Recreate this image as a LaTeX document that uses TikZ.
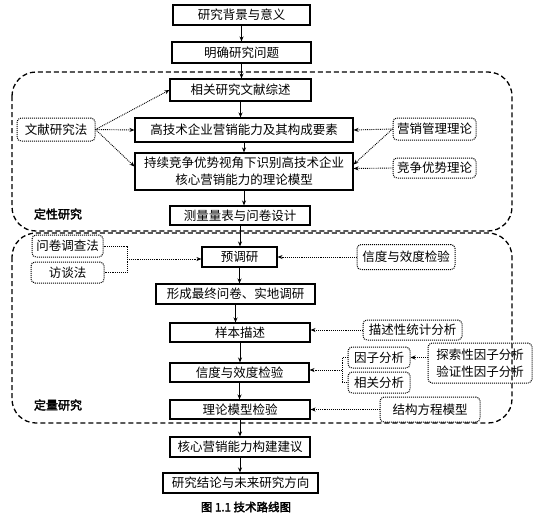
\documentclass[tikz,border=0pt]{standalone}
\usepackage{fontspec}
\setmainfont{Noto Sans CJK SC}[AutoFakeBold=2.5]
\usetikzlibrary{arrows.meta}
\pgfdeclarelayer{bg}
\pgfsetlayers{bg,main}

\begin{document}
\begin{tikzpicture}[x=1pt,y=-1pt,
        font=\fontsize{12.5}{17}\selectfont,
        stepbox/.style={draw, line width=1.1pt, inner sep=0pt, minimum height=20pt, align=center},
        toolbox/.style={draw, densely dotted, line width=1pt, rounded corners=4pt, inner sep=0pt, minimum height=21pt, align=center},
        flow/.style={-{Stealth[length=5pt,width=4pt]}, line width=0.9pt},
        hint/.style={-{Stealth[length=5pt,width=4pt]}, densely dotted, line width=0.9pt},
        brace/.style={densely dotted, line width=0.9pt},
        zone/.style={dash pattern=on 5pt off 3pt, line width=1.3pt, rounded corners=24pt},
        zonelabel/.style={font=\bfseries\fontsize{12}{14}\selectfont}]
        \useasboundingbox (0,0) rectangle (545,531);
        % main steps
        \node (s1) [stepbox, minimum width=137pt] at (241.5, 15) {研究背景与意义};
        \node (s2) [stepbox, minimum width=139pt, minimum height=21pt] at (241.5, 52.5) {明确研究问题};
        \node (s3) [stepbox, minimum width=141pt, minimum height=22pt] at (240.5, 90) {相关研究文献综述};
        \node (s4) [stepbox, minimum width=218pt, minimum height=24pt] at (244, 130) {高技术企业营销能力及其构成要素};
        \node (s5) [stepbox, minimum width=218pt, minimum height=37pt] at (244, 171.5) {持续竞争优势视角下识别高技术企业\\核心营销能力的理论模型};
        \node (s6) [stepbox, minimum width=140pt, minimum height=19pt] at (240, 215.5) {测量量表与问卷设计};
        \node (s7) [stepbox, minimum width=75pt] at (239.5, 257) {预调研};
        \node (s8) [stepbox, minimum width=159pt] at (235.5, 294) {形成最终问卷、实地调研};
        \node (s9) [stepbox, minimum width=140pt, minimum height=19pt] at (240, 332.5) {样本描述};
        \node (s10) [stepbox, minimum width=139pt, minimum height=19pt] at (239.5, 372.5) {信度与效度检验};
        \node (s11) [stepbox, minimum width=140pt, minimum height=19pt] at (240, 409.5) {理论模型检验};
        \node (s12) [stepbox, minimum width=140pt] at (240, 447) {核心营销能力构建建议};
        \node (s13) [stepbox, minimum width=155pt] at (240.5, 483) {研究结论与未来研究方向};
        % methods and theories
        \node (lit) [toolbox, minimum width=78pt, minimum height=23pt] at (56, 129.5) {文献研究法};
        \node (mkt) [toolbox, minimum width=83pt, minimum height=22pt] at (434.5, 129) {营销管理理论};
        \node (adv) [toolbox, minimum width=83pt, minimum height=20pt] at (434.5, 168) {竞争优势理论};
        \node (svy) [toolbox, minimum width=71pt, minimum height=22pt] at (67.5, 246) {问卷调查法};
        \node (itv) [toolbox, minimum width=73pt] at (67.5, 272.5) {访谈法};
        \node (rel) [toolbox, minimum width=98pt, minimum height=25pt] at (406, 257) {信度与效度检验};
        \node (desc) [toolbox, minimum width=99pt, minimum height=20pt] at (412.5, 330) {描述性统计分析};
        \node (fac) [toolbox, minimum width=62pt] at (379, 357.5) {因子分析};
        \node (cor) [toolbox, minimum width=62pt] at (379, 382.5) {相关分析};
        \node (efa) [toolbox, minimum width=104pt, minimum height=40pt] at (480, 363) {探索性因子分析\\验证性因子分析};
        \node (sem) [toolbox, minimum width=100pt, minimum height=25pt] at (430, 409.5) {结构方程模型};
        \coordinate (lbrk) at (127, 259);
        \coordinate (rbrk) at (342, 370);
        % zones
        \node (qual) [zonelabel] at (58, 214) {定性研究};
        \node (quant) [zonelabel] at (58, 405) {定量研究};
        \node (cap) [font=\bfseries\fontsize{11.5}{14}\selectfont] at (246, 507) {图 1.1 技术路线图};
        \begin{pgfonlayer}{bg}
                \draw [zone] (12, 72) rectangle (512, 231);
                \draw [zone] (12, 233) rectangle (512, 423);
        \end{pgfonlayer}
        % main flow
        \foreach \a/\b in {s1/s2, s2/s3, s3/s4, s4/s5, s5/s6, s6/s7, s7/s8, s8/s9, s9/s10, s10/s11, s11/s12, s12/s13}
                \draw [flow] (\a.south) -- (\a.south |- \b.north);
        % supporting links
        \draw [hint] (lit.east) -- (s3.west);
        \draw [hint] (lit.east) -- (s4.west);
        \draw [hint] (lit.east) -- ([yshift=5pt]s5.west);
        \draw [hint] (mkt.west) -- (s4.east);
        \draw [hint] (mkt.west) -- ([yshift=7pt]s5.east);
        \draw [hint] (adv.west) -- ([yshift=3pt]s5.east);
        \draw [brace] (svy.east) -| (lbrk) |- (itv.east);
        \draw [hint] (lbrk) -- (lbrk -| s7.west);
        \draw [hint] (rel.west) -- (s7.east);
        \draw [hint] (desc.west) -- (desc.west -| s9.east);
        \draw [brace] (fac.west) -| (rbrk) |- (cor.west);
        \draw [hint] (rbrk) -- (rbrk -| s10.east);
        \draw [hint] (efa.west |- fac.east) -- (fac.east);
        \draw [hint] (sem.west) -- (s11.east);
\end{tikzpicture}
\end{document}
